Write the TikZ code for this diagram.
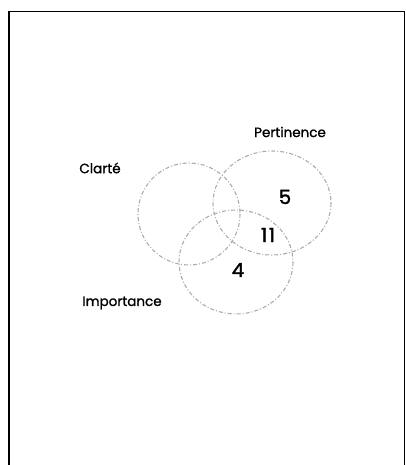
\documentclass[tikz,border=0pt]{standalone}
\usepackage{fontspec}
\setmainfont{Poppins}
\newfontfamily\medfont[FakeBold=1.2]{Poppins}
\newfontfamily\numfont[FakeBold=1.8,LetterSpace=8]{Poppins}
\begin{document}
\begin{tikzpicture}[x=1pt,y=-1pt,
  venn/.style={draw=gray!65, line width=1.1pt, dash pattern=on 4pt off 2pt on 1pt off 2pt},
  lbl/.style={font=\medfont\fontsize{13.5}{15}\selectfont, inner sep=0pt},
  num/.style={font=\numfont\fontsize{19.5}{21}\selectfont, inner sep=0pt}]
\useasboundingbox (0,0) rectangle (406,465);
\draw[line width=1.6pt] (9,465) -- (9,11.5);
\draw[line width=1pt] (9,11.5) -- (404.5,11.5) -- (404.5,465);
\draw[venn] (189,214) ellipse (51 and 51);
\draw[venn] (272,203) ellipse (59 and 52);
\draw[venn] (236,262) ellipse (57 and 52);
\node[lbl] (pert) at (290,132) {Pertinence};
\node[lbl] (clar) at (100,168) {Clarté};
\node[lbl] (imp) at (122,303) {Importance};
\node[num] (n5) at (285,197) {5};
\node[num] (n11) at (268,235) {11};
\node[num] (n4) at (238,270) {4};
\end{tikzpicture}
\end{document}
